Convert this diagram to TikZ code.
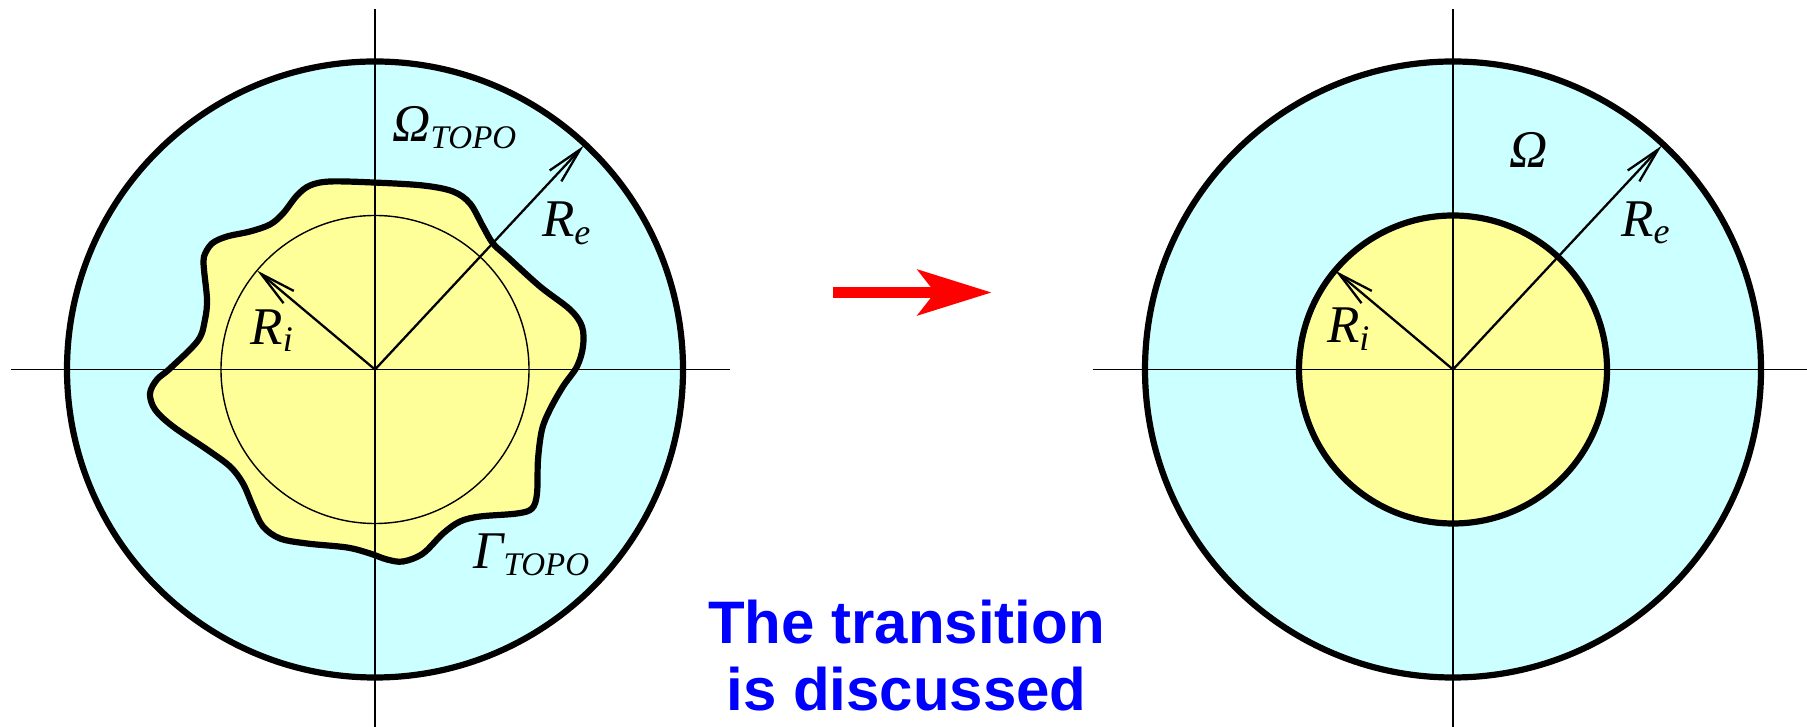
\documentclass[tikz,border=0pt]{standalone}
\usepackage{fontspec}
\setmainfont{Liberation Serif}
\newfontfamily\headfont{Liberation Sans}
\usetikzlibrary{arrows.meta}
\definecolor{shell}{RGB}{204,255,255}
\definecolor{core}{RGB}{255,255,153}
\newcommand{\lowidx}[2]{\raisebox{-3.8pt}{\fontsize{#1}{#1}\selectfont\itshape #2}}

\begin{document}
\begin{tikzpicture}[
    x=0.5pt, y=0.5pt,
    >={Straight Barb[length=18pt, width=8pt]},
    rim/.style={draw, line width=3.1pt},
    axis/.style={line width=0.8pt},
    rline/.style={->, line width=1.15pt},
    lbl/.style={inner sep=0pt, anchor=base west, font=\fontsize{26.5}{30}\selectfont\itshape}
]
\useasboundingbox (0,0) rectangle (1807,727);

% Left: domain with topography
\begin{scope}[shift={(375,357.5)}]
\coordinate (cL) at (0,0);
\coordinate (eL) at (47:306);
\coordinate (iL) at (140:154);
\draw[rim, fill=shell] (cL) circle (308);
\draw[rim, fill=core] plot[smooth cycle, tension=0.55] coordinates {
    (-205,1) (-177,29) (-170,50) (-168,70) (-171,100) (-171,113) (-163,126)
    (-148,133) (-125,138) (-105,145) (-92,156) (-78,174) (-65,184) (-45,188)
    (-2,187) (48,184) (78,178) (95,166) (108,143) (118,126) (132,113) (165,83)
    (195,60) (207,43) (208,23) (202,3) (188,-17) (175,-40) (167,-60) (163,-90)
    (162,-124) (157,-139) (142,-144) (105,-147) (85,-152) (68,-164) (48,-184)
    (28,-192) (12,-190) (-5,-184) (-28,-178) (-68,-174) (-95,-169) (-112,-157)
    (-122,-137) (-132,-114) (-145,-97) (-168,-80) (-202,-57) (-220,-40)
    (-225,-24) (-218,-10)};
\draw[line width=0.7pt] (cL) circle (154);
\draw[axis] (-364,0) -- (355,0);
\draw[axis] (0,360) -- (0,-357.5);
\draw[rline] (cL) -- (eL);
\draw[rline] (cL) -- (iL);
\node[lbl] (omegaL) at (17,228.1) {Ω\lowidx{16.5}{TOPO}};
\node[lbl] (reL) at (166.7,132.8) {R\lowidx{18}{e}};
\node[lbl] (riL) at (-125,25.2) {R\lowidx{18}{i}};
\node[lbl] (gammaL) at (98,-198.8) {Γ\lowidx{16.5}{TOPO}};
\end{scope}

% Right: annulus
\begin{scope}[shift={(1453,357.5)}]
\coordinate (cR) at (0,0);
\coordinate (eR) at (47:306);
\coordinate (iR) at (140:154);
\draw[rim, fill=shell] (cR) circle (308);
\draw[rim, fill=core] (cR) circle (154);
\draw[axis] (-360.5,0) -- (354,0);
\draw[axis] (0,360) -- (0,-357.5);
\draw[rline] (cR) -- (eR);
\draw[rline] (cR) -- (iR);
\node[lbl] (omegaR) at (55.7,201.7) {Ω};
\node[lbl] (reR) at (167.7,133.1) {R\lowidx{18}{e}};
\node[lbl] (riR) at (-126.3,26.5) {R\lowidx{18}{i}};
\end{scope}

% Transition arrow and note
\coordinate (goL) at (833.3,434.5);
\coordinate (goR) at (991.7,434.5);
\draw[red, line width=5.85pt, -{Stealth[length=36.8pt, width=22.5pt, inset=8.5pt]}] (goL) -- (goR);
\node[font=\headfont\bfseries\fontsize{30}{33.4}\selectfont, text=blue, align=center, anchor=base, inner sep=0pt] (note) at (906.5,17) {The transition\\is discussed};

\end{tikzpicture}
\end{document}
